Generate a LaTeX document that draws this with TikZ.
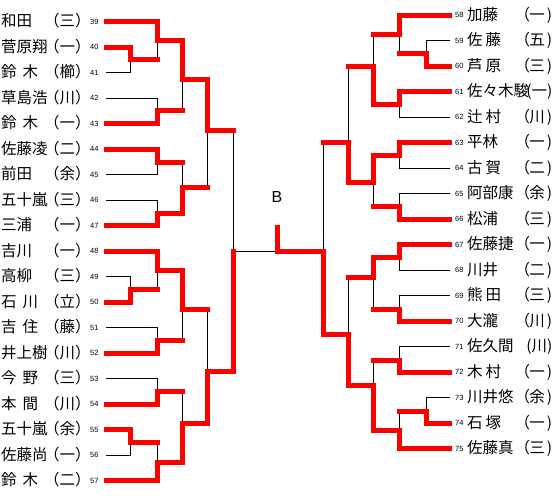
\documentclass[tikz,border=0pt]{standalone}
\usepackage{fontspec}
\setmainfont{Noto Sans CJK JP}
\newfontfamily\pf[RawFeature=+palt]{Noto Sans CJK JP}
\newfontfamily\numfont{Liberation Sans}
\newcommand\nmgap{\hspace{6pt}}
\newcommand\rgap{\hspace{3pt}}
\newcommand\lp{{\pf （}}
\newcommand\rp{\hspace{2pt})}
\begin{document}
\begin{tikzpicture}[x=1pt,y=-1pt,
  lose/.style={draw=black,line width=1pt},
  win/.style={draw=red,line width=5pt,line cap=rect,line join=miter},
  nm/.style={anchor=base west,inner sep=0pt,font=\fontsize{15.5}{16}\selectfont},
  af/.style={anchor=base west,inner sep=0pt,font=\fontsize{15.5}{16}\selectfont},
  afe/.style={anchor=base east,inner sep=0pt,xshift=31pt,font=\fontsize{15.5}{16}\selectfont},
  num/.style={anchor=base west,inner sep=0pt,font=\numfont\fontsize{7.5}{8}\selectfont},
]
\useasboundingbox (0,0) rectangle (555,496);
% left players
\foreach \pn/\pname/\paff [count=\i from 0] in {39/和田/（三）,40/菅原翔/（一）,41/{鈴\nmgap 木}/（櫛）,42/草島浩/（川）,43/{鈴\nmgap 木}/（一）,44/佐藤凌/（二）,45/前田/（余）,46/五十嵐/（三）,47/三浦/（一）,48/吉川/（一）,49/高柳/（三）,50/{石\nmgap 川}/（立）,51/{吉\nmgap 住}/（藤）,52/井上樹/（川）,53/{今\nmgap 野}/（三）,54/{本\nmgap 間}/（川）,55/五十嵐/（余）,56/佐藤尚/（一）,57/{鈴\nmgap 木}/（二）}{
  \pgfmathsetmacro\yy{21.5+25.5*\i}
  \node[nm] (n\pn) at (1,\yy+5) {\pname};
  \node[af] (a\pn) at (44,\yy+5) {\paff};
  \node[num] (d\pn) at (90,\yy+2.7) {\pn};
  \coordinate (e\pn) at (106,\yy);
}
% right players
\foreach \pn/\pname/\paff/\ps [count=\i from 0] in {58/加藤/{\lp 一\rp}/af,59/{佐\rgap 藤}/{\lp 五\rp}/af,60/{芦\rgap 原}/{\lp 三\rp}/af,61/佐々木駿/(一)/afe,62/{辻\rgap 村}/{\lp 川\rp}/af,63/平林/{\lp 一\rp}/af,64/{古\rgap 賀}/{\lp 二\rp}/af,65/阿部康/{\lp 余\rp}/af,66/松浦/{\lp 三\rp}/af,67/佐藤捷/{\lp 一\rp}/af,68/川井/{\lp 二\rp}/af,69/{熊\rgap 田}/{\lp 三\rp}/af,70/大瀧/{\lp 川\rp}/af,71/佐久間/(川)/afe,72/{木\rgap 村}/{\lp 一\rp}/af,73/川井悠/{\lp 余\rp}/af,74/{石\rgap 塚}/{\lp 一\rp}/af,75/佐藤真/{\lp 三\rp}/af}{
  \pgfmathsetmacro\yy{15+25.5*\i}
  \node[num] (d\pn) at (455,\yy+2.7) {\pn};
  \node[nm] (n\pn) at (467,\yy+5) {\pname};
  \node[\ps] (a\pn) at (521.5,\yy+5) {\paff};
  \coordinate (e\pn) at (449.5,\yy);
}
% junctions left
\coordinate (jA) at (130,59.5);
\coordinate (jB) at (157,40.5);
\coordinate (jC) at (157,110.75);
\coordinate (jD) at (182,79);
\coordinate (jE) at (157,162);
\coordinate (jF) at (157,213);
\coordinate (jG) at (182,187);
\coordinate (jH) at (207,130);
\coordinate (jI) at (130,289);
\coordinate (jJ) at (157,270);
\coordinate (jK) at (157,340);
\coordinate (jL) at (182,309);
\coordinate (jM) at (157,391.5);
\coordinate (jN) at (130,442.5);
\coordinate (jO) at (157,462);
\coordinate (jP) at (182,423);
\coordinate (jQ) at (207,371);
\coordinate (jR) at (233,251);
\coordinate (jF0) at (277,251);
\coordinate (cT) at (277,227.5);
% junctions right
\coordinate (ka) at (426,53);
\coordinate (kb) at (399,34);
\coordinate (kc) at (399,104);
\coordinate (kd) at (373,66);
\coordinate (ke) at (399,155);
\coordinate (kf) at (399,206);
\coordinate (kg) at (373,182);
\coordinate (kh) at (348,142);
\coordinate (ki) at (399,257);
\coordinate (kj) at (399,309);
\coordinate (kk) at (373,277);
\coordinate (kl) at (399,360);
\coordinate (km) at (426,411);
\coordinate (kn) at (399,430);
\coordinate (ko) at (373,385);
\coordinate (kp) at (348,334);
\coordinate (kq) at (323,251);
% losing lines
\draw[lose] (e41) -| (jA);
\draw[lose] (jB |- jA) -- (jB);
\draw[lose] (e42) -| (jC);
\draw[lose] (jD |- jC) -- (jD);
\draw[lose] (e45) -| (jE);
\draw[lose] (e46) -| (jF);
\draw[lose] (jG |- jE) -- (jG);
\draw[lose] (jH |- jG) -- (jH);
\draw[lose] (e49) -| (jI);
\draw[lose] (jJ |- jI) -- (jJ);
\draw[lose] (e51) -| (jK);
\draw[lose] (jL |- jK) -- (jL);
\draw[lose] (e53) -| (jM);
\draw[lose] (e56) -| (jN);
\draw[lose] (jO |- jN) -- (jO);
\draw[lose] (jP |- jM) -- (jP);
\draw[lose] (jQ |- jL) -- (jQ);
\draw[lose] (jR |- jH) -- (jR) -- (jF0);
\draw[lose] (e59) -| (ka);
\draw[lose] (kb |- ka) -- (kb);
\draw[lose] (e62) -| (kc);
\draw[lose] (kd |- kb) -- (kd);
\draw[lose] (e64) -| (ke);
\draw[lose] (e65) -| (kf);
\draw[lose] (kg |- kf) -- (kg);
\draw[lose] (kh |- kd) -- (kh);
\draw[lose] (e68) -| (ki);
\draw[lose] (e69) -| (kj);
\draw[lose] (kk |- kj) -- (kk);
\draw[lose] (e71) -| (kl);
\draw[lose] (e73) -| (km);
\draw[lose] (kn |- km) -- (kn);
\draw[lose] (ko |- kl) -- (ko);
\draw[lose] (kp |- kk) -- (kp);
\draw[lose] (kq |- kh) -- (kq);
% winning lines
\draw[win] (e39) -| (jB) -| (jD) -| (jH) -- (jR |- jH);
\draw[win] (e40) -| (jA) -- (jB |- jA);
\draw[win] (e43) -| (jC) -- (jD |- jC);
\draw[win] (e44) -| (jE) -- (jG |- jE);
\draw[win] (e47) -| (jF) -| (jG) -- (jH |- jG);
\draw[win] (e48) -| (jJ) -| (jL) -- (jQ |- jL);
\draw[win] (e50) -| (jI) -- (jJ |- jI);
\draw[win] (e52) -| (jK) -- (jL |- jK);
\draw[win] (e54) -| (jM) -- (jP |- jM);
\draw[win] (e55) -| (jN) -- (jO |- jN);
\draw[win] (e57) -| (jO) -| (jP) -| (jQ) -| (jR);
\draw[win] (e58) -| (kb) -- (kd |- kb);
\draw[win] (e60) -| (ka) -- (kb |- ka);
\draw[win] (e61) -| (kc) -| (kd) -- (kh |- kd);
\draw[win] (e63) -| (ke) -| (kg) -| (kh) -- (kq |- kh);
\draw[win] (e66) -| (kf) -- (kg |- kf);
\draw[win] (e67) -| (ki) -| (kk) -- (kp |- kk);
\draw[win] (e70) -| (kj) -- (kk |- kj);
\draw[win] (e72) -| (kl) -- (ko |- kl);
\draw[win] (e74) -| (km) -- (kn |- km);
\draw[win] (e75) -| (kn) -| (ko) -| (kp) -| (kq) -- (jF0) -- (cT);
\node[font=\numfont\fontsize{16}{16}\selectfont,inner sep=0pt] (B) at (277,197) {B};
\end{tikzpicture}
\end{document}
